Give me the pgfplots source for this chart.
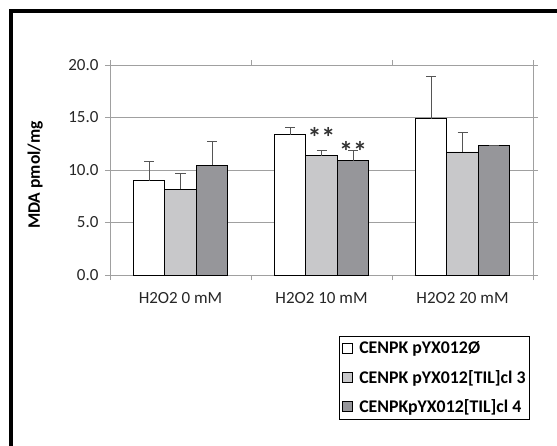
\documentclass[border=0pt]{standalone}
\usepackage{fontspec}
\setmainfont{Carlito}
\usepackage{pgfplots}
\pgfplotsset{compat=1.18}
\definecolor{barlight}{RGB}{200,200,202}
\definecolor{bardark}{RGB}{150,150,154}
\definecolor{axgray}{RGB}{160,160,160}
\definecolor{errgray}{RGB}{85,85,85}

\pgfplotstableread{
x y e
0 9.0 1.8
1 13.35 0.7
2 14.88 4.0
}\wt
\pgfplotstableread{
x y e
0 8.18 1.5
1 11.38 0.5
2 11.72 1.85
}\clthree
\pgfplotstableread{
x y e
0 10.47 2.28
1 10.9 0.98
2 12.33 0.03
}\clfour

\begin{document}
\begin{tikzpicture}[x=1pt,y=1pt]
\begin{axis}[
  at={(110pt,170pt)}, anchor=south west,
  scale only axis, width=423pt, height=210pt,
  ybar=0pt, bar width=31.5pt,
  xmin=-0.5, xmax=2.5, ymin=0, ymax=20,
  xtick={0,1,2},
  xticklabels={H2O2 0 mM, H2O2 10 mM, H2O2 20 mM},
  minor xtick={-0.5,0.5,1.5,2.5},
  ytick={0,5,10,15,20},
  yticklabel style={xshift=-3pt, /pgf/number format/.cd, fixed, fixed zerofill, precision=1},
  /pgf/number format/assume math mode=true,
  tick label style={font=\fontsize{17}{20}\selectfont, text=black!85},
  xticklabel style={yshift=-9pt},
  tick align=outside,
  major tick length=5pt, minor tick length=5pt,
  major x tick style={draw=none},
  minor x tick style={draw=axgray},
  ytick style={draw=axgray},
  axis line style={draw=axgray},
  ymajorgrids, major grid style={draw=axgray},
  ylabel={MDA pmol/mg},
  ylabel style={font=\bfseries\fontsize{17.5}{20}\selectfont, at={(rel axis cs:-0.177,0.476)}, anchor=center},
  legend style={at={(rel axis cs:0.5414,-0.2905)}, anchor=north west,
    draw=black, line width=1pt, inner xsep=2pt, inner ysep=3pt,
    font=\bfseries\fontsize{17.8}{20}\selectfont, row sep=11pt,
    legend cell align=left},
  legend image code/.code={\draw[#1, draw=black, line width=0.7pt] (4pt,-5pt) rectangle (14pt,5pt);
    \path (19pt,0pt);},
  error bars/y dir=plus, error bars/y explicit,
  error bars/error bar style={draw=errgray, line width=0.8pt},
  error bars/error mark options={draw=errgray, rotate=90, mark size=5pt, line width=0.8pt},
]
\addplot[fill=white, draw=black, line width=0.8pt] table[x=x, y=y, y error=e] {\wt};
\addlegendentry{CENPK pYX012Ø}
\addplot[fill=barlight, draw=black, line width=0.8pt] table[x=x, y=y, y error=e] {\clthree};
\addlegendentry{CENPK pYX012[TIL]cl 3}
\addplot[fill=bardark, draw=black, line width=0.8pt] table[x=x, y=y, y error=e] {\clfour};
\addlegendentry{CENPKpYX012[TIL]cl 4}
\node[font=\bfseries\fontsize{28}{28}\selectfont, text=black!80, anchor=base] at (axis cs:1,12.1) {**};
\node[font=\bfseries\fontsize{28}{28}\selectfont, text=black!80, anchor=base, xshift=31.5pt] at (axis cs:1,10.85) {**};
\end{axis}
\draw[line width=4pt] (11pt,-20pt) -- (11pt,434pt) -- (580pt,434pt);
\pgfresetboundingbox
\path[use as bounding box] (0pt,0pt) rectangle (557pt,445pt);
\end{tikzpicture}
\end{document}
